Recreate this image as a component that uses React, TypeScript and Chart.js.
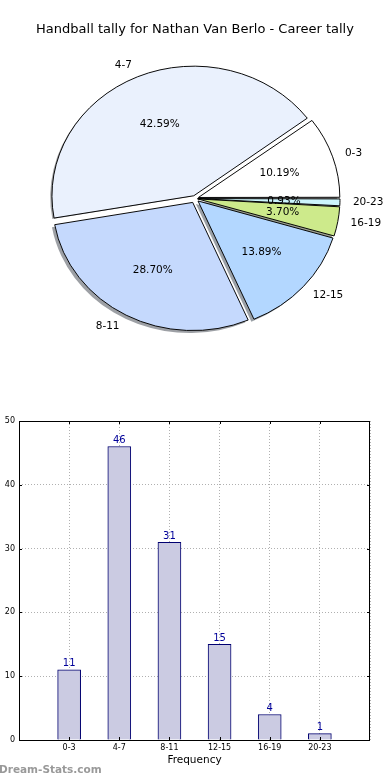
import React, { useEffect, useRef } from 'react';
import { Chart, registerables } from 'chart.js';

Chart.register(...registerables);

const CATEGORIES = ['0-3', '4-7', '8-11', '12-15', '16-19', '20-23'];
const COUNTS = [11, 46, 31, 15, 4, 1];
const PIE_COLORS = ['#ffffff', '#eaf1fd', '#c5d9fd', '#b3d7ff', '#cdea8b', '#ccf5fc'];
const Y_MIN = 0;
const Y_MAX = 50;
const Y_STEP = 10;
const TITLE = 'Handball tally for Nathan Van Berlo - Career tally';
const X_TITLE = 'Frequency';
const WATERMARK = 'Dream-Stats.com';

const FONT = "'DejaVu Sans', sans-serif";
const RX = 140;
const RY = 128;
const EXPLODE = 5;

function hexToRgb(h: string): [number, number, number] {
  const n = parseInt(h.slice(1), 16);
  return [(n >> 16) & 255, (n >> 8) & 255, n & 255];
}

export default function App() {
  const pieRef = useRef<HTMLCanvasElement>(null);
  const barRef = useRef<HTMLCanvasElement>(null);

  useEffect(() => {
    const total = COUNTS.reduce((a, b) => a + b, 0);
    const pieLabels = [...CATEGORIES].reverse();
    const pieData = [...COUNTS].reverse();
    const pieColors = [...PIE_COLORS].reverse();
    const offsets = pieData.map((v) => {
      const circ = (v / total) * 2 * Math.PI;
      const fix = 1 - Math.sin(Math.min(Math.PI, circ));
      return (4 * EXPLODE) / (1 + fix);
    });
    const sy = RY / RX;

    const piePlugin = {
      id: 'piePlugin',
      beforeDatasetsDraw(chart: any) {
        const ctx = chart.ctx;
        const arcs = chart.getDatasetMeta(0).data;
        const cx = arcs[0].x;
        const cy = arcs[0].y;
        ctx.save();
        ctx.translate(cx, cy);
        ctx.scale(1, sy);
        ctx.translate(-cx, -cy);
        arcs.forEach((a: any, i: number) => {
          const mid = (a.startAngle + a.endAngle) / 2;
          const ox = cx + EXPLODE * Math.cos(mid) - 0.02 * RX;
          const oy = cy + EXPLODE * Math.sin(mid) + 0.02 * RX;
          const [r, g, b] = hexToRgb(pieColors[i]);
          const col = `rgba(${Math.round(r * 0.3)},${Math.round(g * 0.3)},${Math.round(b * 0.3)},0.5)`;
          ctx.beginPath();
          ctx.moveTo(ox, oy);
          ctx.arc(ox, oy, a.outerRadius, a.startAngle, a.endAngle);
          ctx.closePath();
          ctx.fillStyle = col;
          ctx.fill();
        });
      },
      afterDatasetsDraw(chart: any) {
        const ctx = chart.ctx;
        ctx.restore();
        const arcs = chart.getDatasetMeta(0).data;
        const cx = arcs[0].x;
        const cy = arcs[0].y;
        ctx.save();
        ctx.fillStyle = '#000';
        ctx.font = `10.5px ${FONT}`;
        ctx.textBaseline = 'middle';
        arcs.forEach((a: any, i: number) => {
          const mid = (a.startAngle + a.endAngle) / 2;
          const dx = Math.cos(mid);
          const dy = Math.sin(mid);
          const R = a.outerRadius;
          const px = cx + EXPLODE * dx;
          const py = cy + EXPLODE * dy * sy;
          ctx.textAlign = 'center';
          const pct = ((pieData[i] / total) * 100).toFixed(2) + '%';
          ctx.fillText(pct, px + 0.6 * R * dx, py + 0.6 * R * dy * sy);
          ctx.textAlign = dx > 0 ? 'left' : 'right';
          ctx.fillText(pieLabels[i], px + 1.1 * R * dx - (dx > 0 ? 1 : 0), py + 1.1 * R * dy * sy);
        });
        ctx.font = `13px ${FONT}`;
        ctx.textAlign = 'center';
        ctx.textBaseline = 'middle';
        ctx.fillText(TITLE, 195, 30);
        ctx.restore();
      },
    };

    const pie = new Chart(pieRef.current!, {
      type: 'pie',
      data: {
        labels: pieLabels,
        datasets: [
          {
            data: pieData,
            backgroundColor: pieColors,
            borderColor: '#000',
            borderWidth: 1,
            offset: offsets,
            clip: false as any,
          },
        ],
      },
      options: {
        animation: false,
        responsive: false,
        devicePixelRatio: 1,
        rotation: 90,
        radius: RX,
        layout: { padding: { left: 0, right: 0, top: 0, bottom: 3 } },
        plugins: { legend: { display: false }, tooltip: { enabled: false }, title: { display: false } },
        events: [],
      } as any,
      plugins: [piePlugin],
    });

    const barData = COUNTS.map((v, i) => ({ x: i, y: v }));

    const barPlugin = {
      id: 'barPlugin',
      afterDraw(chart: any) {
        const ctx = chart.ctx;
        const area = chart.chartArea;
        const xs = chart.scales.x;
        const ys = chart.scales.y;
        ctx.save();
        ctx.strokeStyle = '#000';
        ctx.lineWidth = 1;
        ctx.beginPath();
        for (let i = 0; i < CATEGORIES.length; i++) {
          const x = Math.round(xs.getPixelForValue(i)) + 0.5;
          ctx.moveTo(x, area.bottom);
          ctx.lineTo(x, area.bottom - 3);
          ctx.moveTo(x, area.top);
          ctx.lineTo(x, area.top + 3);
        }
        for (let v = Y_MIN; v <= Y_MAX; v += Y_STEP) {
          const y = Math.round(ys.getPixelForValue(v)) + 0.5;
          ctx.moveTo(area.left, y);
          ctx.lineTo(area.left + 3, y);
          ctx.moveTo(area.right, y);
          ctx.lineTo(area.right - 3, y);
        }
        ctx.stroke();
        ctx.strokeRect(area.left + 0.5, area.top + 0.5, area.right - area.left - 1, area.bottom - area.top);
        const meta = chart.getDatasetMeta(0);
        ctx.fillStyle = '#000099';
        ctx.font = `10px ${FONT}`;
        ctx.textAlign = 'center';
        ctx.textBaseline = 'bottom';
        meta.data.forEach((el: any, i: number) => {
          ctx.fillText(String(COUNTS[i]), el.x, el.y - 1);
        });
        ctx.fillStyle = '#999';
        ctx.font = `bold 10.5px ${FONT}`;
        ctx.textAlign = 'left';
        ctx.textBaseline = 'middle';
        ctx.fillText(WATERMARK, -1, 370);
        ctx.restore();
      },
    };

    const gridCommon = { color: '#b0b0b0', drawTicks: false, lineWidth: 1, offset: false };

    const bar = new Chart(barRef.current!, {
      type: 'bar',
      data: {
        datasets: [
          {
            data: barData as any,
            backgroundColor: '#cbcbe2',
            borderColor: '#000070',
            borderWidth: 1,
            barThickness: 23,
          },
        ],
      },
      options: {
        animation: false,
        responsive: false,
        devicePixelRatio: 1,
        events: [],
        layout: { padding: { top: 21, right: 20, left: 0, bottom: 0 } },
        plugins: { legend: { display: false }, tooltip: { enabled: false } },
        scales: {
          x: {
            type: 'linear',
            min: -1,
            max: CATEGORIES.length,
            offset: false,
            z: 1,
            afterFit(s: any) {
              s.height = 40;
            },
            ticks: {
              stepSize: 1,
              autoSkip: false,
              maxRotation: 0,
              padding: 3,
              color: '#000',
              font: { family: FONT, size: 8 },
              callback: (v: any) => CATEGORIES[Math.round(Number(v))] ?? '',
            },
            grid: gridCommon,
            border: { display: false, dash: [1, 2] },
            title: {
              display: true,
              text: X_TITLE,
              color: '#000',
              font: { family: FONT, size: 10.5 },
              padding: { top: 0, bottom: 13 },
            },
          },
          y: {
            type: 'linear',
            min: Y_MIN,
            max: Y_MAX,
            z: 1,
            afterFit(s: any) {
              s.width = 19;
            },
            ticks: {
              stepSize: Y_STEP,
              padding: 4,
              color: '#000',
              font: { family: FONT, size: 8 },
            },
            grid: gridCommon,
            border: { display: false, dash: [1, 2] },
          },
        },
      } as any,
      plugins: [barPlugin],
    });

    return () => {
      pie.destroy();
      bar.destroy();
    };
  }, []);

  return (
    <div style={{ position: 'absolute', left: 0, top: 0, width: 390, height: 780, background: '#fff' }}>
      <canvas
        ref={pieRef}
        width={390}
        height={400}
        style={{ position: 'absolute', left: 0, top: 0, width: 390, height: 400 }}
      />
      <canvas
        ref={barRef}
        width={390}
        height={380}
        style={{ position: 'absolute', left: 0, top: 400, width: 390, height: 380 }}
      />
    </div>
  );
}
